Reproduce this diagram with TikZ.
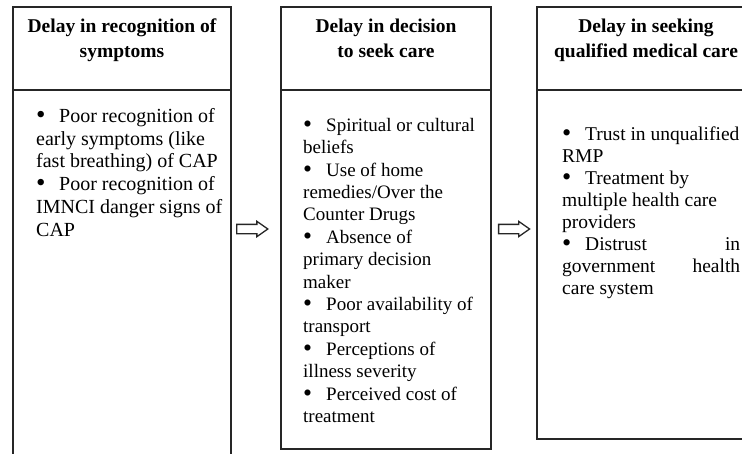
\documentclass[tikz,border=0pt]{standalone}
\usepackage{fontspec}
\usepackage{graphicx}
\setmainfont{Liberation Serif}
\usetikzlibrary{positioning,shapes.arrows}
\newcommand{\blt}{\makebox[23pt][l]{\raisebox{-1.2pt}{\scalebox{1.35}{\textbullet}}}}

\begin{document}
\begin{tikzpicture}[
  x=1pt, y=-1pt,
  frame/.style={draw=black!85, line width=1.3pt, inner sep=0pt, outer sep=0pt},
  title/.style={font=\bfseries\fontsize{19.5}{25}\selectfont, align=center, inner sep=0pt, anchor=north},
  items/.style={align=left, inner sep=0pt, anchor=north west},
  hollow/.style={draw=black!85, fill=white, line width=1.3pt, single arrow, inner xsep=0pt, inner ysep=4pt,
    minimum height=31pt, single arrow head extend=3pt, single arrow tip angle=70}
]
  \useasboundingbox (0,0) rectangle (742,453);
  \clip (0,0) rectangle (742,453);

  \node[frame, minimum width=218pt, minimum height=83pt, anchor=north west] (headA) at (13,7) {};
  \node[frame, minimum width=218pt, minimum height=380pt, below=0pt of headA] (bodyA) {};
  \node[frame, minimum width=210pt, minimum height=83pt, right=50pt of headA] (headB) {};
  \node[frame, minimum width=210pt, minimum height=359pt, below=0pt of headB] (bodyB) {};
  \node[frame, minimum width=218pt, minimum height=83pt, right=46pt of headB] (headC) {};
  \node[frame, minimum width=218pt, minimum height=349pt, below=0pt of headC] (bodyC) {};

  \node[title, below=11.5pt of headA.north] (titleA) {Delay in recognition of\\symptoms};
  \node[title, below=11.5pt of headB.north] (titleB) {Delay in decision\\to seek care};
  \node[title, below=11.5pt of headC.north] (titleC) {Delay in seeking\\qualified medical care};

  \node[items, font=\fontsize{20}{22.8}\selectfont, below right=18pt and 23pt of bodyA.north west] (listA)
    {\blt Poor recognition of\\early symptoms (like\\fast breathing) of CAP\\\blt Poor recognition of\\IMNCI danger signs of\\CAP};
  \node[items, font=\fontsize{19}{22.4}\selectfont, below right=28pt and 22pt of bodyB.north west] (listB)
    {\blt Spiritual or cultural\\beliefs\\\blt Use of home\\remedies/Over the\\Counter Drugs\\\blt Absence of\\primary decision\\maker\\\blt Poor availability of\\transport\\\blt Perceptions of\\illness severity\\\blt Perceived cost of\\treatment};
  \node[items, font=\fontsize{19.5}{22}\selectfont, below right=36.5pt and 25pt of bodyC.north west] (listC)
    {\blt Trust in unqualified\\RMP\\\blt Treatment by\\multiple health care\\providers\\\makebox[178pt][s]{\blt Distrust in}\\\makebox[178pt][s]{government health}\\care system};

  \coordinate (row) at (0,229);
  \path (bodyA.east |- row) -- node[hollow, pos=0.36] {} (bodyB.west |- row);
  \path (bodyB.east |- row) -- node[hollow, pos=0.43] {} (bodyC.west |- row);
\end{tikzpicture}
\end{document}
